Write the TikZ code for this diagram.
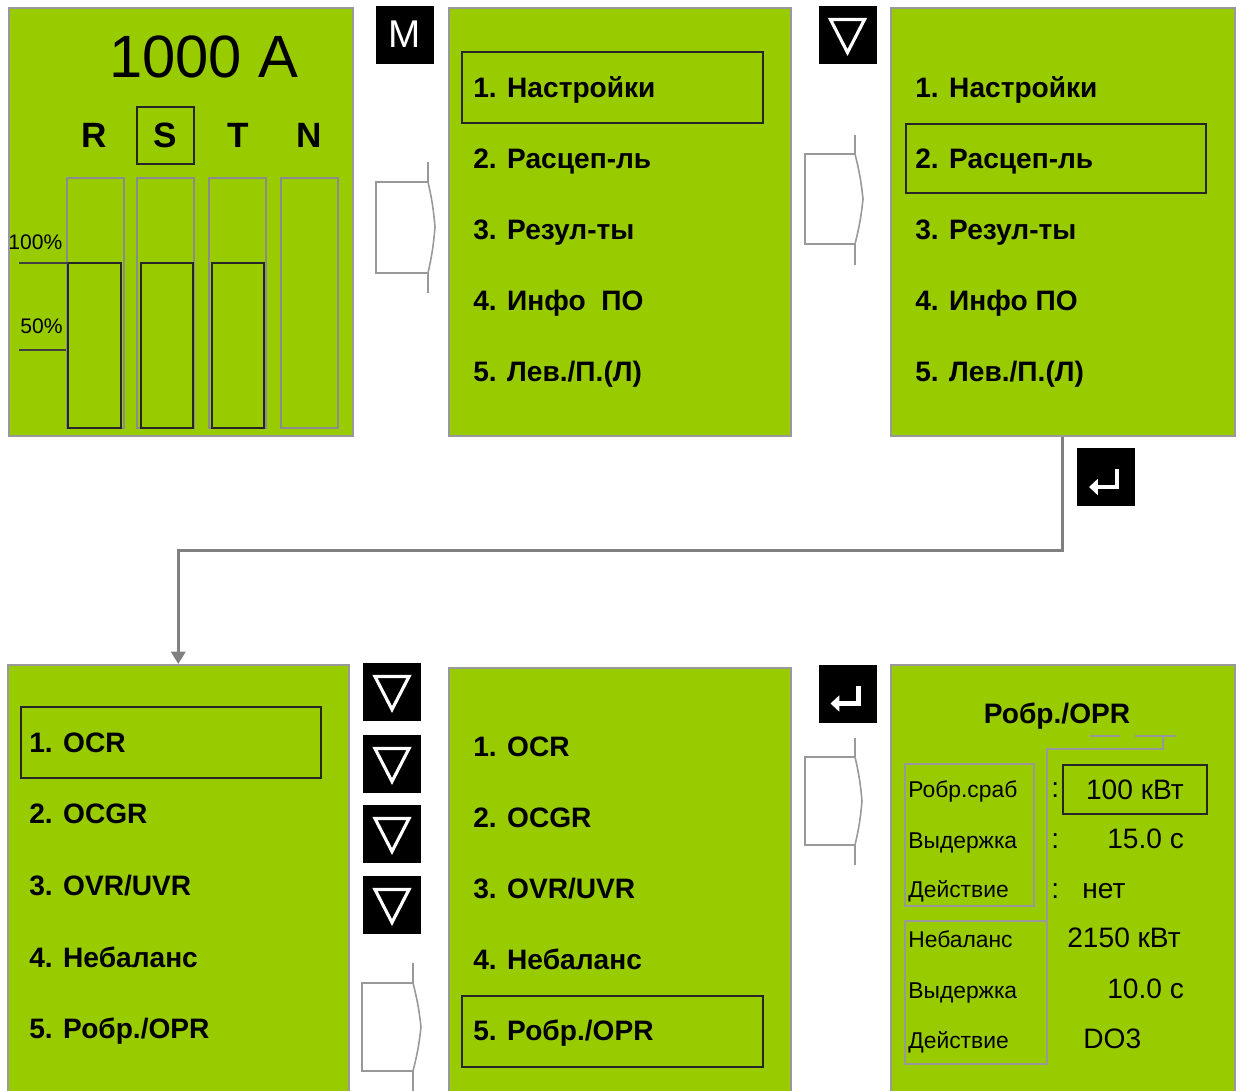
\documentclass[tikz,border=0pt]{standalone}
\usepackage{fontspec}
\setmainfont{Liberation Sans}
\usepackage{xcolor}
\usetikzlibrary{arrows.meta,positioning}
\definecolor{lcd}{RGB}{153,204,0}

\begin{document}
\begin{tikzpicture}[x=0.02cm,y=-0.02cm,>={Triangle[length=7pt,width=8pt]},
    panel/.style={draw=black!40, line width=0.9pt, fill=lcd, anchor=north west, inner sep=0pt},
    sel/.style={draw=black!85, line width=1.1pt, anchor=north west, inner sep=0pt},
    item/.style={font=\fontsize{16}{18}\selectfont\bfseries, anchor=base west, inner sep=0pt},
    lbl/.style={font=\fontsize{13}{15}\selectfont, anchor=base west, inner sep=0pt},
    val/.style={font=\fontsize{16}{18}\selectfont, anchor=base west, inner sep=0pt},
    key/.style={fill=black, minimum size=1.16cm, inner sep=0pt, text=white},
    dnkey/.style={key, path picture={\draw[white, line width=1.8pt, line join=miter]
        ([shift={(-17,-15)}]path picture bounding box.center) -- ++(34,0) -- ++(-17,33) -- cycle;}},
    entkey/.style={key, path picture={\draw[white, line width=2.4pt, -{Triangle[length=5pt,width=9pt]}]
        ([shift={(11,-8)}]path picture bounding box.center) -- ++(0,18) -- ++(-28,0);}},
    blockarr/.style={draw=black!40, fill=white, line width=0.9pt, line join=miter},
    conn/.style={draw=black!50, line width=1.7pt, ->},
    thin/.style={draw=black!40, line width=0.9pt}]
  \useasboundingbox (0,0) rectangle (1244,1090);
  % ---------- screens ----------
  \node[panel, minimum width=6.88cm, minimum height=8.56cm] (scr1) at (8,7)   {};
  \node[panel, minimum width=6.84cm, minimum height=8.56cm] (scr2) at (448,7) {};
  \node[panel, minimum width=6.88cm, minimum height=8.56cm] (scr3) at (890,7) {};
  \node[panel, minimum width=6.82cm, minimum height=8.60cm] (scr4) at (7,664)   {};
  \node[panel, minimum width=6.84cm, minimum height=8.54cm] (scr5) at (448,667) {};
  \node[panel, minimum width=6.88cm, minimum height=8.60cm] (scr6) at (890,664) {};
  % ---------- screen 1: currents ----------
  \node[font=\fontsize{34}{36}\selectfont, anchor=base, inner sep=0pt] (amps) at (204,77) {1000 A};
  \node[font=\fontsize{20}{22}\selectfont\bfseries, anchor=base, inner sep=0pt] (phR) at (94,147)  {R};
  \node[draw=black!85, line width=1.1pt, minimum size=1.14cm, inner sep=0pt,
        font=\fontsize{20}{22}\selectfont\bfseries] (phS) at (165.5,135.5) {S};
  \node[font=\fontsize{20}{22}\selectfont\bfseries, anchor=base, inner sep=0pt] (phT) at (238,147) {T};
  \node[font=\fontsize{20}{22}\selectfont\bfseries, anchor=base, inner sep=0pt] (phN) at (309,147) {N};
  \draw[black!45, line width=0.9pt] (67,178) rectangle (124,428) (137,178) rectangle (194,428)
                                    (209,178) rectangle (266,428) (281,178) rectangle (338,428);
  \draw[black!85, line width=1.1pt] (68,263) rectangle (121,428) (141,263) rectangle (193,428)
                                    (212,263) rectangle (264,428);
  \node[font=\fontsize{12}{13}\selectfont, anchor=base west, inner sep=0pt] (p100) at (8,249)  {100\%};
  \node[font=\fontsize{12}{13}\selectfont, anchor=base west, inner sep=0pt] (p50)  at (20,333) {50\%};
  \draw[black!75, line width=0.8pt] (19,263) -- (68,263) (19,350) -- (66,350);
  % ---------- screen 2: main menu ----------
  \node[sel, minimum width=6.02cm, minimum height=1.42cm] (sel2) at (461,51) {};
  \node[item] (m21) at (473,97)  {1. Настройки};
  \node[item] (m22) at (473,168) {2. Расцеп-ль};
  \node[item] (m23) at (473,239) {3. Резул-ты};
  \node[item] (m24) at (473,310) {4. Инфо\ \ ПО};
  \node[item] (m25) at (473,381) {5. Лев./П.(Л)};
  % ---------- screen 3: main menu, item 2 ----------
  \node[sel, minimum width=6.0cm, minimum height=1.38cm] (sel3) at (905,123) {};
  \node[item] (m31) at (915,97)  {1. Настройки};
  \node[item] (m32) at (915,168) {2. Расцеп-ль};
  \node[item] (m33) at (915,239) {3. Резул-ты};
  \node[item] (m34) at (915,310) {4. Инфо ПО};
  \node[item] (m35) at (915,381) {5. Лев./П.(Л)};
  % ---------- screen 4: protections ----------
  \node[sel, minimum width=6.0cm, minimum height=1.42cm] (sel4) at (20,706) {};
  \node[item] (m41) at (29,752)  {1. OCR};
  \node[item] (m42) at (29,823)  {2. OCGR};
  \node[item] (m43) at (29,895)  {3. OVR/UVR};
  \node[item] (m44) at (29,967)  {4. Небаланс};
  \node[item] (m45) at (29,1038) {5. Робр./OPR};
  % ---------- screen 5: protections, item 5 ----------
  \node[sel, minimum width=6.02cm, minimum height=1.42cm] (sel5) at (461,995) {};
  \node[item] (m51) at (473,756)  {1. OCR};
  \node[item] (m52) at (473,827)  {2. OCGR};
  \node[item] (m53) at (473,898)  {3. OVR/UVR};
  \node[item] (m54) at (473,969)  {4. Небаланс};
  \node[item] (m55) at (473,1040) {5. Робр./OPR};
  % ---------- screen 6: OPR settings ----------
  \node[font=\fontsize{16}{18}\selectfont\bfseries, anchor=base, inner sep=0pt] (opr) at (1057,723) {Робр./OPR};
  \draw[thin] (905,764) rectangle (1034,906) (905,921) rectangle (1047,1064);
  \draw[thin] (1047,921) -- (1047,749) -- (1163,749) -- (1163,736);
  \draw[thin] (1090,736) -- (1120,736) (1135,736) -- (1176,736);
  \node[lbl] (l1) at (908,797)  {Робр.сраб};
  \node[lbl] (l2) at (908,848)  {Выдержка};
  \node[lbl] (l3) at (908,897)  {Действие};
  \node[lbl] (l4) at (908,947)  {Небаланс};
  \node[lbl] (l5) at (908,998)  {Выдержка};
  \node[lbl] (l6) at (908,1048) {Действие};
  \node[val] (c1) at (1051,797) {:};
  \node[val] (c2) at (1051,848) {:};
  \node[val] (c3) at (1051,898) {:};
  \node[draw=black!85, line width=1.1pt, anchor=north west, minimum width=2.88cm, minimum height=0.98cm,
        inner sep=0pt, font=\fontsize{16}{18}\selectfont] (v1) at (1062,764) {100 кВт};
  \node[val] (v2) at (1107,848)  {15.0 с};
  \node[val] (v3) at (1082,898)  {нет};
  \node[val] (v4) at (1067,947)  {2150 кВт};
  \node[val] (v5) at (1107,998)  {10.0 с};
  \node[val] (v6) at (1083,1048) {DO3};
  % ---------- keys ----------
  \node[key, font=\fontsize{22}{24}\selectfont] (kM) at (405,34.5) {M};
  \node[dnkey]  (kdn1) at (847.5,34.5) {};
  \node[entkey] (kent1) at (1106,477) {};
  \node[dnkey]  (kdn2) at (392,691.5) {};
  \node[dnkey]  (kdn3) at (392,763.5) {};
  \node[dnkey]  (kdn4) at (392,833.5) {};
  \node[dnkey]  (kdn5) at (392,904.5) {};
  \node[entkey] (kent2) at (847.5,693.5) {};
  % ---------- step arrows ----------
  \coordinate (ar1) at (376,182);
  \coordinate (ar2) at (805,154);
  \coordinate (ar3) at (362,983);
  \coordinate (ar4) at (805,757);
  \draw[blockarr] (ar1) -- ++(52,0) to[bend left=4] ++(7,45) to[bend left=4] ++(-7,46) -- ++(-52,0) -- cycle;
  \draw[blockarr] ([xshift=52*0.02cm]ar1) -- ++(0,-20) ([shift={(52,91)}]ar1) -- ++(0,20);
  \draw[blockarr] (ar2) -- ++(50,0) to[bend left=4] ++(8,45) to[bend left=4] ++(-8,45) -- ++(-50,0) -- cycle;
  \draw[blockarr] ([xshift=50*0.02cm]ar2) -- ++(0,-19) ([shift={(50,90)}]ar2) -- ++(0,21);
  \draw[blockarr] (ar3) -- ++(51,0) to[bend left=4] ++(8,44) to[bend left=4] ++(-8,44) -- ++(-51,0) -- cycle;
  \draw[blockarr] ([xshift=51*0.02cm]ar3) -- ++(0,-20) ([shift={(51,88)}]ar3) -- ++(0,20);
  \draw[blockarr] (ar4) -- ++(50,0) to[bend left=4] ++(7,44) to[bend left=4] ++(-7,44) -- ++(-50,0) -- cycle;
  \draw[blockarr] ([xshift=50*0.02cm]ar4) -- ++(0,-19) ([shift={(50,88)}]ar4) -- ++(0,20);
  % ---------- flow ----------
  \draw[conn] (scr3.south) -- ++(0,114) -| (scr4.north);
\end{tikzpicture}
\end{document}
